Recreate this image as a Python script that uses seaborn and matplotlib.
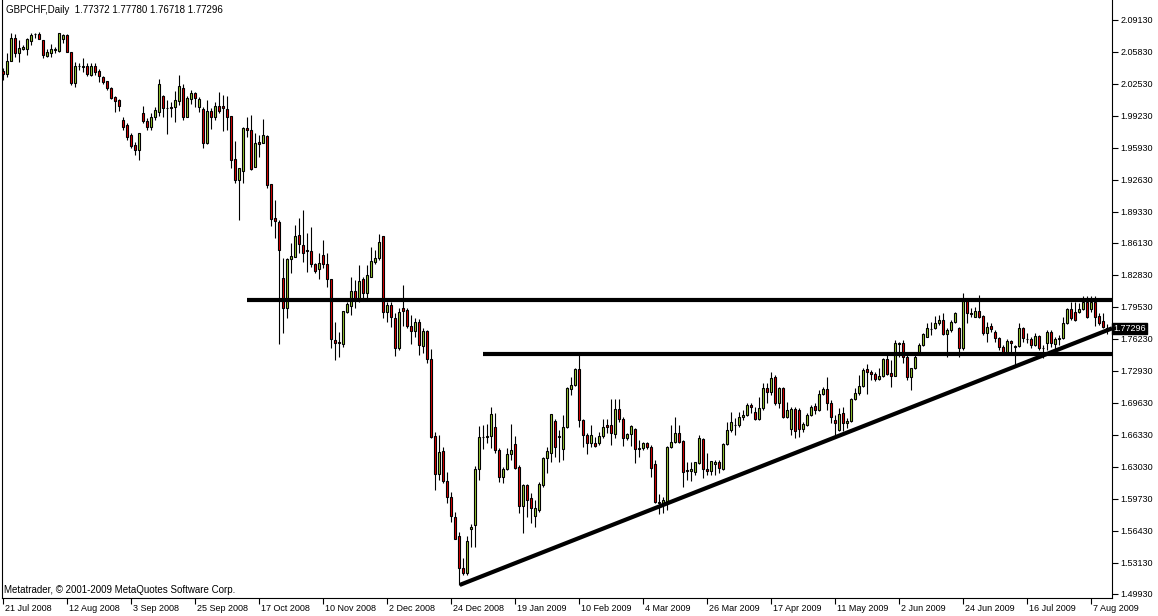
import matplotlib
matplotlib.use("Agg")
import matplotlib.pyplot as plt
import matplotlib.transforms as mtransforms
import seaborn as sns
import pandas as pd

# GBPCHF daily candles, 21 Jul 2008 .. 13 Aug 2009
opens = [
    2.0390, 2.0356, 2.0493, 2.0724, 2.0569, 2.0611, 2.0611, 2.0699, 2.0765, 2.0765,
    2.0706, 2.0545, 2.0576, 2.0603, 2.0596, 2.0714, 2.0758, 2.0580, 2.0266, 2.0435,
    2.0425, 2.0438, 2.0346, 2.0438, 2.0387, 2.0322, 2.0284, 2.0208, 2.0122, 2.0088,
    1.9881, 1.9830, 1.9727, 1.9624, 1.9572, 1.9951, 1.9874, 1.9812, 1.9909, 1.9967,
    2.0129, 2.0005, 2.0012, 2.0012, 2.0081, 2.0208, 1.9916, 2.0098, 2.0163, 2.0012,
    1.9992, 1.9641, 1.9974, 1.9916, 2.0026, 2.0026, 1.9995, 1.9923, 1.9476, 1.9263,
    1.9359, 1.9796, 1.9778, 1.9394, 1.9655, 1.9647, 1.9716, 1.9221, 1.8871, 1.8830,
    1.8252, 1.7943, 1.8448, 1.8469, 1.8696, 1.8592, 1.8541, 1.8531, 1.8396, 1.8345,
    1.8489, 1.8396, 1.8242, 1.7613, 1.7592, 1.7571, 1.7901, 1.7963, 1.8118, 1.8036,
    1.8242, 1.8097, 1.8262, 1.8417, 1.8458, 1.8685, 1.7901, 1.7974, 1.7840, 1.7530,
    1.7943, 1.7922, 1.7757, 1.7706, 1.7798, 1.7551, 1.7706, 1.7417, 1.6623, 1.6231,
    1.6468, 1.6159, 1.5994, 1.5787, 1.5591, 1.5261, 1.5210, 1.5664, 1.5705, 1.6282,
    1.6607, 1.6612, 1.6623, 1.6716, 1.6478, 1.6200, 1.6282, 1.6437, 1.6540, 1.6303,
    1.5901, 1.6117, 1.5983, 1.5798, 1.5860, 1.6117, 1.6396, 1.6447, 1.6777, 1.6623,
    1.6489, 1.6716, 1.7107, 1.7149, 1.7314, 1.6788, 1.6633, 1.6551, 1.6551, 1.6551,
    1.6623, 1.6736, 1.6736, 1.6643, 1.6901, 1.6798, 1.6602, 1.6643, 1.6695, 1.6499,
    1.6499, 1.6551, 1.6509, 1.6334, 1.5942, 1.5932, 1.5942, 1.6509, 1.6561, 1.6654,
    1.6571, 1.6272, 1.6262, 1.6251, 1.6344, 1.6592, 1.6282, 1.6262, 1.6334, 1.6355,
    1.6282, 1.6540, 1.6685, 1.6731, 1.6736, 1.6819, 1.6839, 1.6942, 1.6870, 1.6798,
    1.6911, 1.7118, 1.7076, 1.7231, 1.6963, 1.7118, 1.6819, 1.6695, 1.6901, 1.6891,
    1.6695, 1.6736, 1.6839, 1.6932, 1.6891, 1.7056, 1.7107, 1.6963, 1.6788, 1.6685,
    1.6860, 1.6757, 1.6777, 1.7004, 1.7066, 1.7138, 1.7314, 1.7283, 1.7262, 1.7211,
    1.7241, 1.7417, 1.7272, 1.7241, 1.7571, 1.7582, 1.7437, 1.7231, 1.7324, 1.7479,
    1.7561, 1.7644, 1.7721, 1.7736, 1.7788, 1.7819, 1.7675, 1.7716, 1.7798, 1.7736,
    1.7530, 1.8015, 1.7891, 1.7850, 1.7912, 1.7860, 1.7685, 1.7757, 1.7695, 1.7633,
    1.7541, 1.7479, 1.7602, 1.7541, 1.7551, 1.7736, 1.7618, 1.7623, 1.7561, 1.7654,
    1.7525, 1.7582, 1.7695, 1.7571, 1.7623, 1.7633, 1.7788, 1.7932, 1.7901, 1.7901,
    1.7932, 1.8005, 1.7932, 1.8005, 1.7860, 1.7809, 1.77372,
]
highs = [
    2.0415, 2.0569, 2.0776, 2.0768, 2.0706, 2.0655, 2.0724, 2.0776, 2.0782, 2.0792,
    2.0706, 2.0611, 2.0665, 2.0637, 2.0776, 2.0768, 2.0768, 2.0580, 2.0483, 2.0472,
    2.0518, 2.0466, 2.0472, 2.0472, 2.0404, 2.0335, 2.0284, 2.0225, 2.0129, 2.0095,
    1.9916, 1.9847, 1.9751, 1.9658, 1.9744, 2.0026, 1.9899, 1.9951, 2.0012, 2.0301,
    2.0139, 2.0088, 2.0070, 2.0181, 2.0346, 2.0253, 2.0129, 2.0191, 2.0173, 2.0116,
    2.0012, 2.0088, 2.0002, 2.0070, 2.0173, 2.0139, 2.0129, 1.9923, 1.9668, 1.9383,
    1.9806, 1.9916, 1.9933, 1.9744, 1.9727, 1.9889, 1.9727, 1.9221, 1.9056, 1.8850,
    1.8458, 1.8458, 1.8613, 1.8799, 1.8871, 1.8953, 1.8716, 1.8778, 1.8407, 1.8510,
    1.8644, 1.8510, 1.8242, 1.7798, 1.7695, 1.7912, 1.8005, 1.8262, 1.8231, 1.8386,
    1.8262, 1.8386, 1.8572, 1.8541, 1.8706, 1.8685, 1.8005, 1.8005, 1.7891, 1.7943,
    1.8180, 1.7943, 1.7871, 1.7840, 1.7829, 1.7736, 1.7716, 1.7520, 1.6664, 1.6633,
    1.6509, 1.6251, 1.6045, 1.5839, 1.5633, 1.5365, 1.5591, 1.5715, 1.6313, 1.6726,
    1.6736, 1.6746, 1.6922, 1.6860, 1.6499, 1.6303, 1.6499, 1.6746, 1.6623, 1.6324,
    1.6128, 1.6128, 1.6035, 1.5963, 1.6148, 1.6406, 1.6509, 1.6849, 1.6798, 1.6685,
    1.6839, 1.7128, 1.7231, 1.7324, 1.7458, 1.6798, 1.6654, 1.6736, 1.6612, 1.6664,
    1.6798, 1.6798, 1.7004, 1.7004, 1.7004, 1.6819, 1.6654, 1.6736, 1.6705, 1.6581,
    1.6561, 1.6561, 1.6530, 1.6375, 1.6025, 1.5994, 1.6520, 1.6736, 1.6819, 1.6736,
    1.6581, 1.6355, 1.6355, 1.6355, 1.6633, 1.6602, 1.6447, 1.6365, 1.6375, 1.6375,
    1.6551, 1.6767, 1.6870, 1.6808, 1.6870, 1.6891, 1.6963, 1.6963, 1.6922, 1.7025,
    1.7169, 1.7169, 1.7283, 1.7252, 1.7128, 1.7128, 1.6973, 1.6922, 1.6922, 1.6911,
    1.6767, 1.6860, 1.6942, 1.6963, 1.7097, 1.7128, 1.7231, 1.6994, 1.6839, 1.6911,
    1.6922, 1.6808, 1.7015, 1.7118, 1.7252, 1.7324, 1.7365, 1.7303, 1.7283, 1.7324,
    1.7427, 1.7468, 1.7406, 1.7613, 1.7592, 1.7613, 1.7479, 1.7324, 1.7489, 1.7582,
    1.7685, 1.7788, 1.7798, 1.7860, 1.7871, 1.7891, 1.7736, 1.7819, 1.7901, 1.7747,
    1.8097, 1.8025, 1.7943, 1.7953, 1.8077, 1.7871, 1.7798, 1.7788, 1.7716, 1.7644,
    1.7561, 1.7623, 1.7613, 1.7561, 1.7788, 1.7747, 1.7685, 1.7644, 1.7685, 1.7664,
    1.7561, 1.7716, 1.7716, 1.7644, 1.7664, 1.7850, 1.7943, 1.8005, 1.8005, 1.7994,
    1.8066, 1.8066, 1.8066, 1.8066, 1.7891, 1.7891, 1.77780,
]
lows = [
    2.0294, 2.0322, 2.0493, 2.0534, 2.0483, 2.0603, 2.0552, 2.0655, 2.0724, 2.0714,
    2.0518, 2.0528, 2.0528, 2.0569, 2.0586, 2.0672, 2.0580, 2.0242, 2.0225, 2.0397,
    2.0380, 2.0335, 2.0335, 2.0346, 2.0270, 2.0253, 2.0191, 2.0095, 1.9967, 1.9977,
    1.9778, 1.9675, 1.9590, 1.9521, 1.9469, 1.9847, 1.9778, 1.9778, 1.9881, 1.9923,
    1.9916, 1.9737, 1.9909, 1.9864, 2.0036, 1.9881, 1.9909, 2.0046, 2.0012, 1.9967,
    1.9590, 1.9634, 1.9786, 1.9881, 1.9957, 1.9768, 1.9778, 1.9383, 1.9229, 1.8850,
    1.9229, 1.9709, 1.9366, 1.9394, 1.9503, 1.9641, 1.9183, 1.8788, 1.8665, 1.7571,
    1.7685, 1.7840, 1.8304, 1.8469, 1.8510, 1.8417, 1.8314, 1.8366, 1.8304, 1.8242,
    1.8355, 1.8159, 1.7530, 1.7406, 1.7437, 1.7541, 1.7891, 1.7871, 1.7943, 1.8005,
    1.8046, 1.8046, 1.8262, 1.8396, 1.8438, 1.7840, 1.7798, 1.7747, 1.7448, 1.7510,
    1.7757, 1.7736, 1.7571, 1.7644, 1.7458, 1.7479, 1.7376, 1.6602, 1.6066, 1.6169,
    1.6138, 1.5932, 1.5736, 1.5561, 1.5086, 1.5189, 1.5189, 1.5478, 1.5478, 1.6169,
    1.6489, 1.6551, 1.6499, 1.6447, 1.6148, 1.6138, 1.6272, 1.6375, 1.6282, 1.5829,
    1.5622, 1.5787, 1.5726, 1.5684, 1.5839, 1.6097, 1.6241, 1.6355, 1.6406, 1.6355,
    1.6375, 1.6705, 1.7046, 1.7138, 1.6716, 1.6509, 1.6437, 1.6509, 1.6509, 1.6530,
    1.6602, 1.6654, 1.6530, 1.6602, 1.6767, 1.6520, 1.6581, 1.6520, 1.6344, 1.6406,
    1.6478, 1.6489, 1.6200, 1.5932, 1.5818, 1.5829, 1.5860, 1.6499, 1.6551, 1.6551,
    1.6097, 1.6169, 1.6159, 1.6221, 1.6334, 1.6190, 1.6221, 1.6221, 1.6221, 1.6241,
    1.6272, 1.6530, 1.6664, 1.6633, 1.6716, 1.6788, 1.6829, 1.6860, 1.6788, 1.6788,
    1.6891, 1.6963, 1.7046, 1.6942, 1.6911, 1.6808, 1.6808, 1.6633, 1.6602, 1.6612,
    1.6664, 1.6726, 1.6829, 1.6850, 1.6881, 1.7046, 1.6891, 1.6757, 1.6633, 1.6674,
    1.6674, 1.6705, 1.6767, 1.6994, 1.7046, 1.7128, 1.7056, 1.7200, 1.7190, 1.7200,
    1.7231, 1.7252, 1.7128, 1.7241, 1.7437, 1.7376, 1.7200, 1.7097, 1.7314, 1.7458,
    1.7551, 1.7644, 1.7664, 1.7726, 1.7767, 1.7664, 1.7437, 1.7695, 1.7788, 1.7437,
    1.7510, 1.7788, 1.7850, 1.7850, 1.7840, 1.7664, 1.7592, 1.7695, 1.7592, 1.7510,
    1.7468, 1.7468, 1.7479, 1.7355, 1.7541, 1.7592, 1.7582, 1.7530, 1.7551, 1.7510,
    1.7427, 1.7510, 1.7541, 1.7510, 1.7561, 1.7623, 1.7778, 1.7819, 1.7809, 1.7891,
    1.7922, 1.7840, 1.7901, 1.7757, 1.7767, 1.7736, 1.76718,
]
closes = [
    2.0356, 2.0493, 2.0724, 2.0576, 2.0621, 2.0637, 2.0714, 2.0758, 2.0768, 2.0714,
    2.0552, 2.0586, 2.0611, 2.0611, 2.0776, 2.0758, 2.0580, 2.0266, 2.0438, 2.0438,
    2.0438, 2.0353, 2.0438, 2.0380, 2.0338, 2.0276, 2.0208, 2.0111, 2.0081, 2.0029,
    1.9812, 1.9709, 1.9613, 1.9572, 1.9744, 1.9874, 1.9812, 1.9909, 1.9985, 2.0253,
    2.0002, 2.0002, 2.0002, 2.0088, 2.0232, 1.9916, 2.0105, 2.0157, 2.0105, 2.0098,
    1.9647, 1.9977, 1.9909, 2.0026, 1.9977, 2.0002, 1.9916, 1.9469, 1.9263, 1.9383,
    1.9796, 1.9778, 1.9376, 1.9641, 1.9631, 1.9727, 1.9211, 1.8861, 1.8840, 1.8541,
    1.7943, 1.8448, 1.8479, 1.8685, 1.8603, 1.8510, 1.8531, 1.8396, 1.8324, 1.8407,
    1.8396, 1.8242, 1.7623, 1.7582, 1.7582, 1.7912, 1.7984, 1.8118, 1.8036, 1.8221,
    1.8097, 1.8283, 1.8427, 1.8458, 1.8623, 1.7901, 1.7974, 1.7850, 1.7530, 1.7901,
    1.7912, 1.7757, 1.7706, 1.7798, 1.7561, 1.7706, 1.7417, 1.6612, 1.6231, 1.6458,
    1.6159, 1.5994, 1.5798, 1.5561, 1.5261, 1.5210, 1.5540, 1.5684, 1.6282, 1.6612,
    1.6612, 1.6623, 1.6849, 1.6478, 1.6200, 1.6282, 1.6437, 1.6478, 1.6293, 1.5901,
    1.6117, 1.5963, 1.5880, 1.5880, 1.6128, 1.6396, 1.6468, 1.6849, 1.6509, 1.6612,
    1.6716, 1.7118, 1.7149, 1.7314, 1.6788, 1.6633, 1.6551, 1.6633, 1.6520, 1.6623,
    1.6716, 1.6716, 1.6654, 1.6901, 1.6798, 1.6602, 1.6643, 1.6726, 1.6489, 1.6489,
    1.6551, 1.6509, 1.6293, 1.5942, 1.5932, 1.5963, 1.6509, 1.6561, 1.6654, 1.6561,
    1.6251, 1.6262, 1.6282, 1.6355, 1.6602, 1.6282, 1.6262, 1.6365, 1.6355, 1.6293,
    1.6540, 1.6685, 1.6767, 1.6736, 1.6819, 1.6839, 1.6942, 1.6922, 1.6798, 1.6911,
    1.7118, 1.7076, 1.7221, 1.6963, 1.7118, 1.6819, 1.6891, 1.6901, 1.6674, 1.6695,
    1.6746, 1.6839, 1.6922, 1.6891, 1.7056, 1.7107, 1.6963, 1.6819, 1.6757, 1.6849,
    1.6757, 1.6777, 1.7004, 1.7066, 1.7138, 1.7303, 1.7283, 1.7262, 1.7211, 1.7241,
    1.7417, 1.7262, 1.7241, 1.7582, 1.7582, 1.7437, 1.7231, 1.7324, 1.7437, 1.7561,
    1.7675, 1.7736, 1.7726, 1.7788, 1.7819, 1.7675, 1.7716, 1.7798, 1.7891, 1.7530,
    1.8015, 1.7891, 1.7881, 1.7912, 1.7850, 1.7685, 1.7747, 1.7726, 1.7633, 1.7541,
    1.7479, 1.7602, 1.7582, 1.7551, 1.7736, 1.7633, 1.7623, 1.7561, 1.7654, 1.7530,
    1.7530, 1.7695, 1.7582, 1.7623, 1.7633, 1.7788, 1.7932, 1.7840, 1.7819, 1.7932,
    1.8005, 1.7850, 1.8005, 1.7850, 1.7788, 1.7747, 1.77296,
]

date_labels = ["21 Jul 2008", "12 Aug 2008", "3 Sep 2008", "25 Sep 2008", "17 Oct 2008",
               "10 Nov 2008", "2 Dec 2008", "24 Dec 2008", "19 Jan 2009", "10 Feb 2009",
               "4 Mar 2009", "26 Mar 2009", "17 Apr 2009", "11 May 2009", "2 Jun 2009",
               "24 Jun 2009", "16 Jul 2009", "7 Aug 2009"]
price_ticks = [2.09130, 2.05830, 2.02530, 1.99230, 1.95930, 1.92630, 1.89330, 1.86130,
               1.82830, 1.79530, 1.76230, 1.72930, 1.69630, 1.66330, 1.63030, 1.59730,
               1.56430, 1.53130, 1.49930]

# drawn lines: resistance, neckline and the rising support line
resistance_x = [61, 277.2]
resistance_y = [1.8025, 1.8025]
neckline_x = [120, 277.2]
neckline_y = [1.7468, 1.7468]
support_x = [114.1, 277.2]
support_y = [1.5086, 1.7733]

bars = pd.DataFrame({"open": opens, "high": highs, "low": lows, "close": closes})
bars["idx"] = range(len(bars))
bars["bull"] = bars["close"] >= bars["open"]

sns.set_style("white")
plt.rcParams["font.family"] = ["Liberation Sans", "DejaVu Sans"]

fig = plt.figure(figsize=(11.58, 6.16), dpi=100)
ax = fig.add_axes([2 / 1158, 18 / 616, 1110 / 1158, 598 / 616])

# wicks
ax.vlines(bars["idx"], bars["low"], bars["high"], color="black", lw=0.8, zorder=2)

# bodies
body_low = bars[["open", "close"]].min(axis=1)
body_h = (bars["close"] - bars["open"]).abs().clip(lower=0.0002)
fills = bars["bull"].map({True: "#9acd32", False: "#e00000"})
ax.bar(bars["idx"], body_h, bottom=body_low, width=0.5, color=fills,
       edgecolor="black", linewidth=0.8, zorder=3)

# trend lines
for xs, ys in [(resistance_x, resistance_y), (neckline_x, neckline_y), (support_x, support_y)]:
    sns.lineplot(x=xs, y=ys, ax=ax, color="black", lw=3, sort=False,
                 solid_capstyle="butt", zorder=4)

ax.set_xlim(-0.33, 277.17)
ax.set_ylim(2.1119 - 598 / 969.6, 2.1119)

# axes styling like the terminal window
for side in ["left", "right", "bottom"]:
    ax.spines[side].set_visible(True)
    ax.spines[side].set_color("black")
    ax.spines[side].set_linewidth(0.8)
ax.spines["top"].set_visible(False)

ax.yaxis.tick_right()
ax.set_yticks(price_ticks)
ax.set_yticklabels([f"{v:.5f}" for v in price_ticks])
ax.tick_params(axis="y", direction="out", length=4, width=0.8, pad=2,
               labelsize=6.5, colors="black", right=True, left=False)

ax.set_xticks(range(0, 16 * len(date_labels), 16))
ax.set_xticklabels(date_labels)
ax.tick_params(axis="x", direction="out", length=4, width=0.8, pad=0,
               labelsize=6.5, colors="black", bottom=True)
shift = mtransforms.ScaledTranslation(2 / 100, 0, fig.dpi_scale_trans)
for lab in ax.get_xticklabels():
    lab.set_horizontalalignment("left")
    lab.set_transform(lab.get_transform() + shift)

ax.set_xlabel("")
ax.set_ylabel("")

# current price marker
ax.text(1.001, closes[-1], f"{closes[-1]:.5f}", transform=ax.get_yaxis_transform(),
        ha="left", va="center", fontsize=6.5, color="white", clip_on=False,
        bbox=dict(boxstyle="square,pad=0.15", fc="black", ec="black"))

ax.text(4 / 1110, 1 - 10 / 598,
        f"GBPCHF,Daily  {opens[-1]:.5f} {highs[-1]:.5f} {lows[-1]:.5f} {closes[-1]:.5f}",
        transform=ax.transAxes, ha="left", va="center", fontsize=7, color="black")
ax.text(2 / 1110, 8 / 598, "Metatrader, \u00a9 2001-2009 MetaQuotes Software Corp.",
        transform=ax.transAxes, ha="left", va="center", fontsize=7, color="black")

fig.savefig("out.png", dpi=100, facecolor="white")
